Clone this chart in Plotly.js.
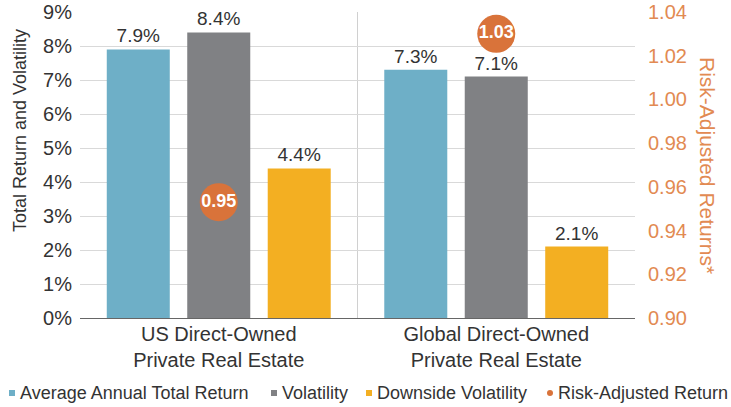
<!DOCTYPE html>
<html>
<head>
<meta charset="utf-8">
<script src="https://cdn.plot.ly/plotly-3.0.1.min.js"></script>
<style>html,body{margin:0;padding:0;background:#fff;}#chart{width:731px;height:407px;}</style>
</head>
<body>
<div id="chart"></div>
<script>
// ---- data ----
const categories = ["US Direct-Owned<br>Private Real Estate", "Global Direct-Owned<br>Private Real Estate"];
const totalReturn = [7.9, 7.3];
const volatility = [8.4, 7.1];
const downsideVol = [4.4, 2.1];
const riskAdjusted = [0.953, 1.03];
const seriesNames = ["Average Annual Total Return", "Volatility", "Downside Volatility", "Risk-Adjusted Return"];
const leftTicks = [0, 1, 2, 3, 4, 5, 6, 7, 8, 9];
const leftTickText = ["0%", "1%", "2%", "3%", "4%", "5%", "6%", "7%", "8%", "9%"];
const rightTicks = [0.90, 0.92, 0.94, 0.96, 0.98, 1.00, 1.02, 1.04];

// ---- style ----
const FONT = "Liberation Sans, Arial, Helvetica, sans-serif";
const TXT = "#333333";
const COLORS = ["#6EAFC7", "#808184", "#F3AF22", "#D9733A"];
const ORANGE_TXT = "#E28A52";

const L = 80, R = 635, T = 12, B = 318;
const W = 731, H = 407;
const px2x = x => (x - L) / (R - L);
const px2y = y => (B - y) / (B - T);

function barTrace(vals, i) {
  return {
    type: "bar", x: categories, y: vals, name: seriesNames[i],
    marker: {color: COLORS[i]},
    texttemplate: "%{y:.1f}%", textposition: "outside", cliponaxis: false,
    constraintext: "none",
    textfont: {family: FONT, size: 19, color: TXT},
    showlegend: false, hoverinfo: "skip"
  };
}

const traces = [
  barTrace(totalReturn, 0),
  barTrace(volatility, 1),
  barTrace(downsideVol, 2),
  {
    type: "scatter", mode: "markers+text", x: categories, y: riskAdjusted, yaxis: "y2",
    name: seriesNames[3],
    marker: {color: COLORS[3], size: 38},
    texttemplate: "%{y:.2f}", textposition: "middle center",
    textfont: {family: FONT, size: 18, color: "#ffffff", weight: "bold"},
    cliponaxis: false, showlegend: false, hoverinfo: "skip"
  }
];

// manual legend
const legendItems = [
  {sx: 9, tx: 18, kind: "rect"},
  {sx: 271, tx: 280, kind: "rect"},
  {sx: 366, tx: 375, kind: "rect"},
  {sx: 547, tx: 556, kind: "circle"}
];
const LY = 393;
const shapes = [
  {type: "line", xref: "x", yref: "paper", x0: 0.5, x1: 0.5, y0: 0, y1: 1,
   line: {color: "#D0D0D0", width: 1}, layer: "below"}
];
const annotations = [];
legendItems.forEach((it, i) => {
  shapes.push({type: it.kind, xref: "paper", yref: "paper",
    x0: px2x(it.sx), x1: px2x(it.sx + 6), y0: px2y(LY + 3), y1: px2y(LY - 3),
    fillcolor: COLORS[i], line: {width: 0}});
  annotations.push({xref: "paper", yref: "paper", x: px2x(it.tx), y: px2y(LY),
    xanchor: "left", yanchor: "middle", showarrow: false, text: seriesNames[i],
    font: {family: FONT, size: 18, color: TXT}});
});
annotations.push({xref: "paper", yref: "paper", x: px2x(20), y: px2y(131),
  xanchor: "center", yanchor: "middle", showarrow: false, textangle: -90,
  text: "Total Return and Volatility", font: {family: FONT, size: 18, color: TXT}});
annotations.push({xref: "paper", yref: "paper", x: px2x(708), y: px2y(165),
  xanchor: "center", yanchor: "middle", showarrow: false, textangle: 90,
  text: "Risk-Adjusted Returns*", font: {family: FONT, size: 21, color: ORANGE_TXT}});

const layout = {
  width: W, height: H,
  margin: {l: L, r: W - R, t: T, b: H - B, pad: 0},
  paper_bgcolor: "#ffffff", plot_bgcolor: "#ffffff",
  barmode: "group", bargap: 0.13, bargroupgap: 0.217,
  showlegend: false,
  font: {family: FONT, color: TXT},
  xaxis: {
    type: "category", showgrid: false, showline: false, ticks: "",
    tickfont: {family: FONT, size: 20, color: TXT}, ticklabelstandoff: 2
  },
  yaxis: {
    range: [0, 9], tickmode: "array", tickvals: leftTicks, ticktext: leftTickText,
    showgrid: true, gridcolor: "#D9D9D9", gridwidth: 1,
    zeroline: true, zerolinecolor: "#666666", zerolinewidth: 1,
    showline: false, ticks: "", ticklabelstandoff: 7,
    tickfont: {family: FONT, size: 20, color: TXT}
  },
  yaxis2: {
    overlaying: "y", side: "right", range: [0.90, 1.04], tickmode: "array", tickvals: rightTicks,
    tickformat: ".2f", showgrid: false, zeroline: false, showline: false, ticks: "",
    ticklabelstandoff: 12,
    tickfont: {family: FONT, size: 20, color: ORANGE_TXT}
  },
  shapes: shapes,
  annotations: annotations
};

Plotly.newPlot("chart", traces, layout, {displayModeBar: false, staticPlot: true});
</script>
</body>
</html>
